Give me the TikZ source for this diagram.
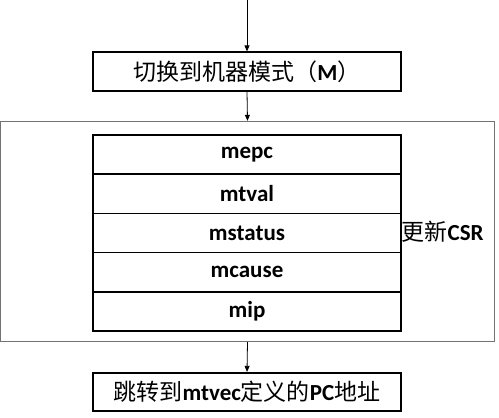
\documentclass[tikz,border=0pt]{standalone}
\usepackage{fontspec}
\setmainfont{Carlito}
\newfontfamily\cjk{Noto Sans CJK SC}
\usetikzlibrary{arrows.meta}
\begin{document}
\begin{tikzpicture}[x=1pt,y=-1pt,
  every node/.style={font=\fontsize{23}{27}\selectfont\bfseries},
  boxstyle/.style={draw=black,line width=1.7pt,minimum width=308pt,minimum height=38.5pt,inner sep=0pt,anchor=center},
  rowstyle/.style={draw=black,line width=1.7pt,minimum width=308pt,minimum height=39.2pt,inner sep=0pt,anchor=center},
  outerstyle/.style={draw=black!55,line width=1.4pt,minimum width=493.5pt,minimum height=220pt,inner sep=0pt},
  arr/.style={draw=black,line width=0.8pt,-{Triangle[length=6pt,width=5pt]}}]
\useasboundingbox (0,0) rectangle (499,418);
\coordinate (top) at (247,0);
\node[boxstyle] (m) at (247,71.5) {{\cjk\mdseries 切换到机器模式（}M{\cjk\mdseries ）}};
\node[outerstyle] (csr) at (247.5,231.5) {};
\node[rowstyle] (r1) at (247,154.6) {mepc};
\node[rowstyle] (r2) at (247,193.8) {mtval};
\node[rowstyle] (r3) at (247,233.0) {mstatus};
\node[rowstyle] (r4) at (247,272.2) {mcause};
\node[rowstyle] (r5) at (247,311.4) {mip};
\node[anchor=west,inner sep=0pt] (lab) at (401.5,232) {{\cjk\mdseries 更新}CSR};
\node[boxstyle] (j) at (247,392) {{\cjk\mdseries 跳转到}mtvec{\cjk\mdseries 定义的}PC{\cjk\mdseries 地址}};
\draw[arr] (top) -- (m.north);
\draw[arr] (m.south) -- (csr.north);
\draw[arr] (csr.south) -- (j.north);
\end{tikzpicture}
\end{document}
